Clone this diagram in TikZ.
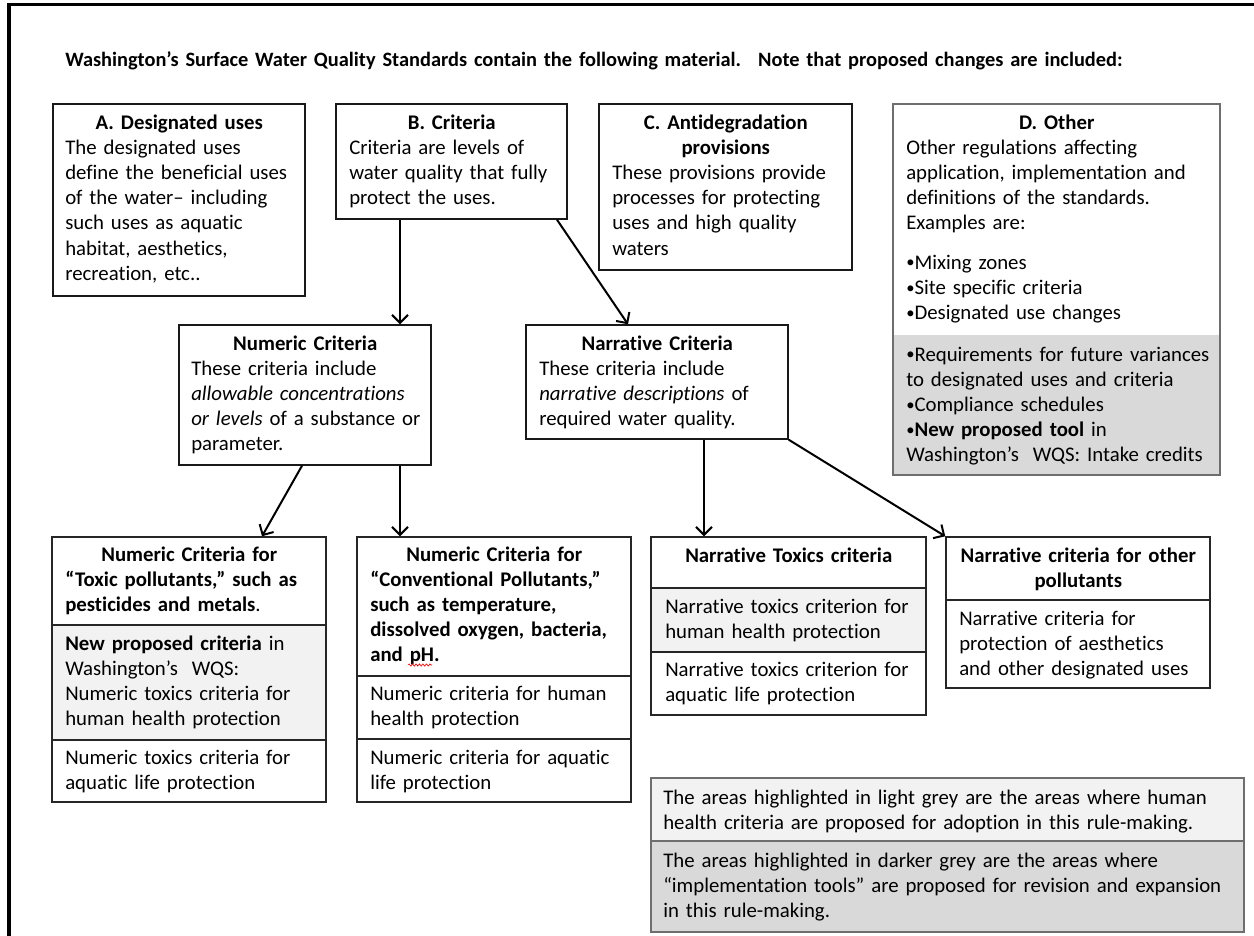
\documentclass[tikz,border=0pt]{standalone}
\usepackage{fontspec}
\setmainfont{Carlito}[Ligatures=NoCommon]
\usetikzlibrary{arrows.meta,fit,decorations.pathmorphing}
\definecolor{lightg}{HTML}{F2F2F2}
\definecolor{darkg}{HTML}{D9D9D9}
\definecolor{frameg}{HTML}{6E6E6E}
\newcommand\hd[2]{\makebox[#1][c]{\bfseries #2}}
\newcommand\bul{\raisebox{0.8pt}{\scalebox{0.8}{•}}}
\begin{document}
\begin{tikzpicture}[x=0.75pt,y=-0.75pt,
  box/.style={draw=black!90, line width=1.1pt, inner sep=0pt},
  sec/.style={draw=black!85, line width=1.1pt, inner sep=0pt},
  gbox/.style={draw=frameg, line width=2pt, inner sep=0pt},
  txt/.style={anchor=base west, inner sep=0pt, text width=500pt,
    font=\fontsize{15.6}{18.9}\selectfont,
    execute at begin node={\raggedright\parindent0pt}},
  arr/.style={line width=1.5pt, -{Straight Barb[length=6pt,width=12pt]}},
]
\useasboundingbox (0,0) rectangle (1254,936);
\draw[line width=2.4pt] (9,950) -- (9,4.5) -- (1270,4.5);

% title
\node[txt, text width=900pt, font=\bfseries\fontsize{15.3}{18.9}\selectfont] (title) at (65,66)
  {Washington’s Surface Water Quality Standards contain the following material.~ Note that proposed changes are included:};

% A
\node[box, fit={(53,104) (305,296)}] (A) {};
\node[txt] (At) at (65,129) {\hd{171pt}{A. Designated uses}\\The designated uses\\define the beneficial uses\\of the water– including\\such uses as aquatic\\habitat, aesthetics,\\recreation, etc..};

% B
\node[box, fit={(336,104) (567,219)}] (B) {};
\node[txt] (Bt) at (349,129) {\hd{153.75pt}{B. Criteria}\\Criteria are levels of\\water quality that fully\\protect the uses.};

% C
\node[box, fit={(599,104) (852,270)}] (C) {};
\node[txt] (Ct) at (612,129) {\hd{170.25pt}{C. Antidegradation}\\\hd{170.25pt}{provisions}\\These provisions provide\\processes for protecting\\uses and high quality\\waters};

% D
\node[inner sep=0pt, fill=darkg, fit={(893,335) (1220,475)}] (Dlow) {};
\node[txt] (Dt) at (906,129) {\hd{225.75pt}{D. Other}\\Other regulations affecting\\application, implementation and\\definitions of the standards.\\Examples are:\\[10.5pt]\bul Mixing zones\\\bul Site specific criteria\\\bul Designated use changes};
\node[txt] (Dlt) at (906,361) {\bul Requirements for future variances\\to designated uses and criteria\\\bul Compliance schedules\\\bul\textbf{New proposed tool} in\\Washington’s~ WQS: Intake credits};
\node[gbox, fit={(893,104) (1220,475)}] (D) {};

% Numeric criteria
\node[box, fit={(179,325) (431,465)}] (Num) {};
\node[txt] (Numt) at (191,350) {\hd{171pt}{Numeric Criteria}\\These criteria include\\\textit{allowable concentrations}\\\textit{or levels} of a substance or\\parameter.};

% Narrative criteria
\node[box, fit={(526,325) (788,439)}] (Nar) {};
\node[txt] (Nart) at (539,350) {\hd{177pt}{Narrative Criteria}\\These criteria include\\\textit{narrative descriptions} of\\required water quality.};

% Toxic pollutants
\node[sec, fit={(52,537) (326,625)}] (T1) {};
\node[sec, fill=lightg, fit={(52,625) (326,740)}] (T2) {};
\node[sec, fit={(52,740) (326,802)}] (T3) {};
\node[txt] (T1t) at (65,561) {\hd{186pt}{Numeric Criteria for}\\\textbf{“Toxic pollutants,” such as}\\\textbf{pesticides and metals}.};
\node[txt] (T2t) at (65,650) {\textbf{New proposed criteria} in\\Washington’s~ WQS:\\Numeric toxics criteria for\\human health protection};
\node[txt] (T3t) at (65,764) {Numeric toxics criteria for\\aquatic life protection};

% Conventional pollutants
\node[sec, fit={(357,537) (631,676)}] (V1) {};
\node[sec, fit={(357,676) (631,739)}] (V2) {};
\node[sec, fit={(357,739) (631,802)}] (V3) {};
\node[txt] (V1t) at (370,561) {\hd{186pt}{Numeric Criteria for}\\{\bfseries “Conventional Pollutants,”\\such as temperature,\\dissolved oxygen, bacteria,\\and pH.}};
\draw[red, line width=0.5pt, decorate, decoration={snake, amplitude=0.8pt, segment length=2.6pt}] (408,665) -- (432,665);
\node[txt] (V2t) at (370,700) {Numeric criteria for human\\health protection};
\node[txt] (V3t) at (370,764) {Numeric criteria for aquatic\\life protection};

% Narrative toxics
\node[sec, fit={(651,537) (926,588)}] (N1) {};
\node[sec, fill=lightg, fit={(651,588) (926,652)}] (N2) {};
\node[sec, fit={(651,652) (926,715)}] (N3) {};
\node[txt] (N1t) at (665,562) {\hd{185.25pt}{Narrative Toxics criteria}};
\node[txt] (N2t) at (665,613) {Narrative toxics criterion for\\human health protection};
\node[txt] (N3t) at (665,676) {Narrative toxics criterion for\\aquatic life protection};

% Narrative other
\node[sec, fit={(946,537) (1210,600)}] (O1) {};
\node[sec, fit={(946,600) (1210,688)}] (O2) {};
\node[txt] (O1t) at (959,562) {\hd{178.5pt}{Narrative criteria for other}\\\hd{178.5pt}{pollutants}};
\node[txt] (O2t) at (959,625) {Narrative criteria for\\protection of aesthetics\\and other designated uses};

% Legend
\node[inner sep=0pt, fill=lightg, fit={(651,778) (1244,841)}] (L1) {};
\node[inner sep=0pt, fill=darkg, fit={(651,841) (1244,932)}] (L2) {};
\draw[frameg, line width=1.6pt] (L1.south west) -- (L1.south east);
\node[gbox, fit={(651,778) (1244,932)}] (L) {};
\node[txt] (L1t) at (663,804) {The areas highlighted in light grey are the areas where human\\health criteria are proposed for adoption in this rule-making.};
\node[txt] (L2t) at (663,867) {The areas highlighted in darker grey are the areas where\\“implementation tools” are proposed for revision and expansion\\in this rule-making.};

% connectors
\draw[arr] (B.south -| 400,0) -- (Num.north -| 400,0);
\draw[arr] (B.south -| 557,0) -- (Nar.north -| 628,0);
\draw[arr] (Num.south -| 302,0) -- (T1.north -| 262,0);
\draw[arr] (Num.south -| 400,0) -- (V1.north -| 400,0);
\draw[arr] (Nar.south -| 704,0) -- (N1.north -| 704,0);
\draw[arr] (Nar.south east) -- (O1.north west);
\end{tikzpicture}
\end{document}
